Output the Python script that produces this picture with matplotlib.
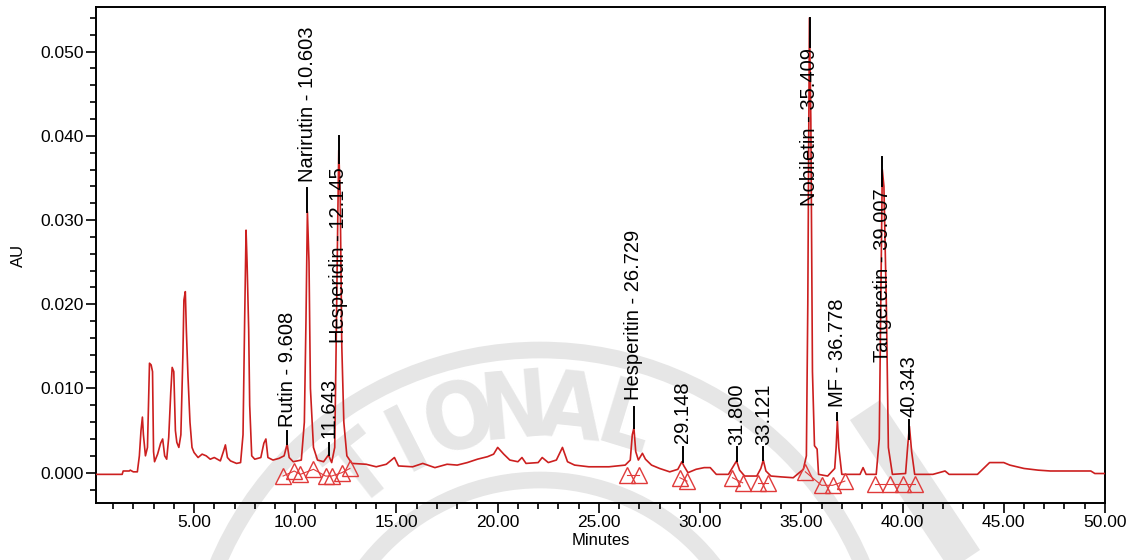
import matplotlib
matplotlib.use("Agg")

import matplotlib.pyplot as plt
from matplotlib.patches import Arc
from matplotlib.ticker import MultipleLocator, FormatStrFormatter
import numpy as np

# chromatogram trace (minutes, AU)
times = [0.15, 1.45, 1.5, 1.8, 1.85, 2.0, 2.2, 2.3, 2.38, 2.45, 2.5, 2.6, 2.7, 2.8, 2.88,
         2.95, 3.0, 3.05, 3.2, 3.35, 3.45, 3.55, 3.65, 3.75, 3.85, 3.92, 4.0, 4.08, 4.15,
         4.25, 4.35, 4.45, 4.5, 4.57, 4.62, 4.7, 4.8, 4.9, 5.0, 5.2, 5.4, 5.6, 5.8, 6.0,
         6.3, 6.45, 6.55, 6.65, 6.8, 7.1, 7.3, 7.42, 7.5, 7.57, 7.62, 7.7, 7.75, 7.85, 8.0,
         8.3, 8.45, 8.55, 8.65, 8.9, 9.2, 9.45, 9.6, 9.7, 9.9, 10.3, 10.45, 10.53, 10.6,
         10.68, 10.75, 10.9, 11.1, 11.4, 11.64, 11.8, 11.95, 12.02, 12.1, 12.15, 12.22,
         12.3, 12.4, 12.55, 12.8, 13.5, 14.0, 14.5, 14.9, 15.1, 15.8, 16.3, 16.9, 17.5,
         18.0, 18.5, 19.0, 19.5, 19.8, 20.0, 20.15, 20.3, 20.6, 21.0, 21.2, 21.4, 22.0,
         22.2, 22.5, 22.9, 23.2, 23.45, 23.8, 24.5, 25.5, 26.3, 26.55, 26.65, 26.73, 26.82,
         26.95, 27.15, 27.3, 27.6, 28.0, 28.5, 28.9, 29.1, 29.2, 29.4, 29.8, 30.2, 30.5,
         30.8, 31.4, 31.6, 31.8, 31.95, 32.2, 32.8, 33.0, 33.12, 33.25, 33.5, 34.0, 34.6,
         35.1, 35.25, 35.32, 35.4, 35.47, 35.55, 35.65, 35.78, 35.85, 36.3, 36.65, 36.72,
         36.78, 36.85, 37.0, 37.9, 38.05, 38.2, 38.7, 38.85, 38.95, 39.0, 39.08, 39.2, 39.3,
         39.5, 40.15, 40.25, 40.34, 40.45, 40.6, 41.5, 42.1, 42.3, 43.7, 44.0, 44.3, 45.0,
         45.3, 46.0, 46.7, 47.3, 49.3, 49.5, 50.0]
absorb = [-0.0002, -0.0002, 0.0002, 0.0002, 0.0003, 0.0001, 0.0001, 0.0020, 0.0050, 0.0066,
          0.0045, 0.0020, 0.0030, 0.0130, 0.0128, 0.0120, 0.0025, 0.0013, 0.0022, 0.0035,
          0.0040, 0.0020, 0.0016, 0.0042, 0.0095, 0.0125, 0.0120, 0.0050, 0.0036, 0.0030,
          0.0045, 0.0140, 0.0205, 0.0215, 0.0170, 0.0115, 0.0060, 0.0030, 0.0024, 0.0018,
          0.0022, 0.0020, 0.0016, 0.0018, 0.0014, 0.0025, 0.0033, 0.0018, 0.0014, 0.0011,
          0.0012, 0.0045, 0.0180, 0.0288, 0.0250, 0.0170, 0.0080, 0.0020, 0.0016, 0.0018,
          0.0035, 0.0040, 0.0018, 0.0015, 0.0017, 0.0020, 0.0034, 0.0018, 0.0013, 0.0015,
          0.0060, 0.0180, 0.0310, 0.0250, 0.0100, 0.0030, 0.0015, 0.0013, 0.0021, 0.0012,
          0.0030, 0.0150, 0.0300, 0.0383, 0.0330, 0.0150, 0.0060, 0.0020, 0.0011, 0.0010,
          0.0007, 0.0010, 0.0018, 0.0008, 0.0007, 0.0011, 0.0006, 0.0010, 0.0009, 0.0012,
          0.0016, 0.0019, 0.0022, 0.0030, 0.0026, 0.0022, 0.0015, 0.0013, 0.0018, 0.0011,
          0.0012, 0.0018, 0.0012, 0.0015, 0.0030, 0.0013, 0.0009, 0.0007, 0.0007, 0.0009,
          0.0015, 0.0045, 0.0053, 0.0025, 0.0015, 0.0023, 0.0016, 0.0009, 0.0005, 0.0001,
          0.0004, 0.0013, 0.0008, 0.0000, 0.0004, 0.0006, 0.0006, -0.0002, -0.0002, 0.0006,
          0.0014, 0.0003, -0.0004, -0.0004, 0.0005, 0.0015, 0.0002, -0.0004, -0.0005, -0.0006,
          0.0004, 0.0020, 0.0200, 0.0540, 0.0420, 0.0120, 0.0032, 0.0028, -0.0002, -0.0004,
          0.0005, 0.0030, 0.0062, 0.0030, -0.0002, -0.0002, 0.0006, -0.0002, -0.0002, 0.0040,
          0.0250, 0.0360, 0.0340, 0.0200, 0.0030, -0.0002, -0.0001, 0.0030, 0.0055, 0.0025,
          -0.0002, -0.0002, 0.0002, -0.0002, -0.0002, 0.0005, 0.0012, 0.0012, 0.0009, 0.0005,
          0.0003, 0.0002, 0.0002, -0.0001, -0.0001]

# integration marks (peak start / end triangles), grouped by baseline
tri_groups = [
    ([9.4, 9.95, 10.25, 10.9, 11.5, 11.8, 12.3, 12.7],
     [-0.0004, 0.0002, -0.0002, 0.0004, -0.0004, -0.0004, 0.0000, 0.0005]),
    ([26.4, 27.0], [-0.0003, -0.0003]),
    ([29.0, 29.35], [-0.0006, -0.0010]),
    ([31.6, 32.1], [-0.0006, -0.0012]),
    ([32.85, 33.35], [-0.0012, -0.0012]),
    ([35.2, 36.0, 36.55, 37.15], [0.0001, -0.0015, -0.0015, -0.0010]),
    ([38.65, 39.4, 40.0, 40.6], [-0.0014, -0.0014, -0.0014, -0.0014]),
]

# peak labels
peak_names = ["Rutin - 9.608", "Narirutin - 10.603", "11.643", "Hesperidin - 12.145",
              "Hesperitin - 26.729", "29.148", "31.800", "33.121", "Nobiletin - 35.409",
              "MF - 36.778", "Tangeretin - 39.007", "40.343"]
peak_times = [9.608, 10.603, 11.643, 12.145, 26.729, 29.148, 31.800, 33.121, 35.409,
              36.778, 39.007, 40.343]
# leader line (low, high) and text base position
lead_lo = [0.0034, 0.0310, 0.0021, 0.0368, 0.0053, 0.0013, 0.0014, 0.0015, 0.0505, 0.0062, 0.0341, 0.0040]
lead_hi = [0.0050, 0.0338, 0.0035, 0.0400, 0.0078, 0.0030, 0.0031, 0.0031, 0.0540, 0.0071, 0.0375, 0.0062]
text_y = [0.0054, 0.0345, 0.0041, 0.0154, 0.0086, 0.0035, 0.0033, 0.0033, 0.0317, 0.0078, 0.0131, 0.0066]

plt.rcParams["font.family"] = ["Liberation Sans", "DejaVu Sans"]

fig = plt.figure(figsize=(11.34, 5.6), dpi=100)

# faint seal watermark behind the plot
wm = fig.add_axes([0, 0, 1, 1], zorder=0)
wm.set_xlim(0, 1134)
wm.set_ylim(560, 0)
wm.axis("off")
cx, cy = 540, 700
wm_col = "#e6e6e6"
wm.add_patch(Arc((cx, cy), 700, 700, theta1=180, theta2=360, color=wm_col, lw=12))
wm.add_patch(Arc((cx, cy), 440, 440, theta1=180, theta2=360, color=wm_col, lw=12))
for i, ch in enumerate("TIONAL"):
    ang = 128 - i * 11.0
    r = 290
    px = cx + r * np.cos(np.radians(ang))
    py = cy - r * np.sin(np.radians(ang))
    wm.text(px, py, ch, rotation=ang - 90, fontsize=66, fontweight="bold",
            fontstretch="condensed", color=wm_col, ha="center", va="center",
            family="DejaVu Sans")
wm.plot([865, 965], [410, 560], color=wm_col, lw=26, solid_capstyle="butt")

ax = fig.add_axes([0.0847, 0.1018, 0.8897, 0.8857], zorder=1)
ax.patch.set_alpha(0)

ax.plot(times, absorb, color="#cc1f1f", lw=1.2, zorder=3)

for gx, gy in tri_groups:
    ax.plot(gx, gy, color="#e03a3a", lw=0.8, marker="^", markersize=11,
            markerfacecolor="none", markeredgecolor="#e03a3a", markeredgewidth=1.0, zorder=4)

for name, t, lo, hi, ty in zip(peak_names, peak_times, lead_lo, lead_hi, text_y):
    ax.plot([t, t], [lo, hi], color="black", lw=1.4, zorder=5)
    ax.text(t, ty, name, rotation=90, ha="center", va="bottom", fontsize=14.5,
            color="black", zorder=6)

ax.set_xlim(0.16, 50)
ax.set_ylim(-0.0036, 0.0553)

ax.xaxis.set_major_locator(MultipleLocator(5))
ax.xaxis.set_minor_locator(MultipleLocator(1))
ax.xaxis.set_major_formatter(FormatStrFormatter("%.2f"))
ax.yaxis.set_major_locator(MultipleLocator(0.01))
ax.yaxis.set_minor_locator(MultipleLocator(0.002))
ax.yaxis.set_major_formatter(FormatStrFormatter("%.3f"))
ax.tick_params(which="major", length=7, width=1.2, labelsize=12.5, pad=2)
ax.tick_params(which="minor", length=4, width=1.2)
for s in ax.spines.values():
    s.set_linewidth(1.4)

ax.set_xlabel("Minutes", fontsize=12, labelpad=2)
ax.set_ylabel("AU", fontsize=12, labelpad=10)

fig.savefig("out.png", dpi=100)
